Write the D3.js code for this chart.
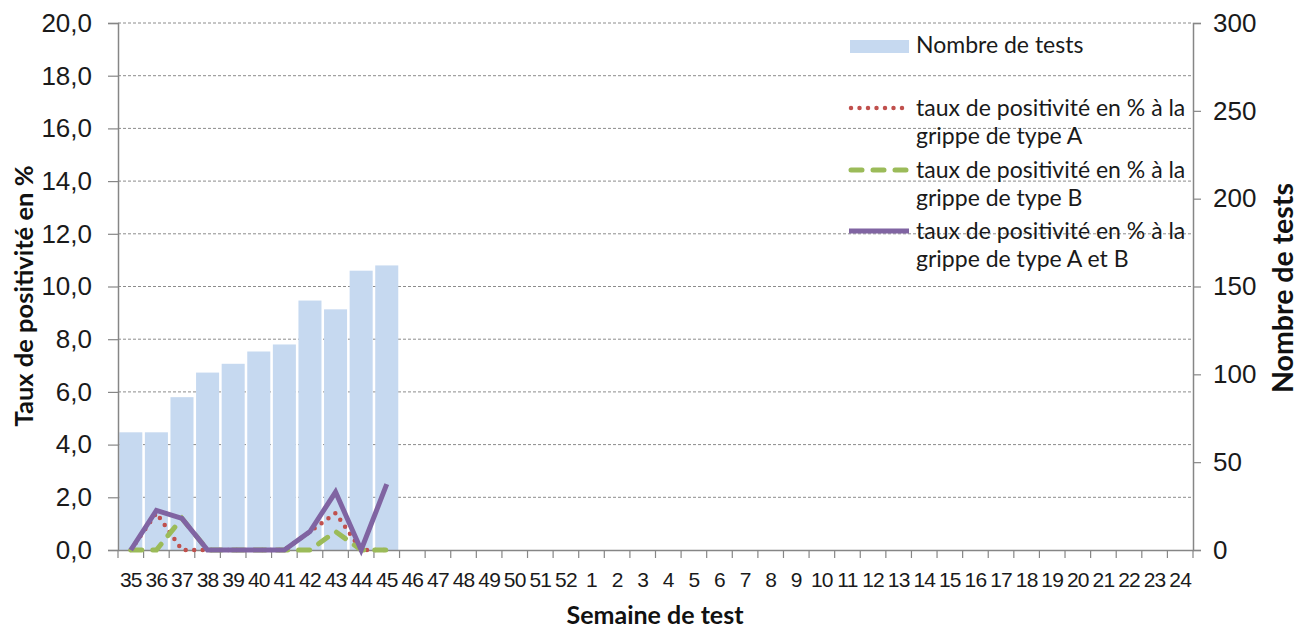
<!DOCTYPE html>
<html>
<head>
<meta charset="utf-8">
<script src="https://cdn.jsdelivr.net/npm/d3@7"></script>
<style>
  body { margin: 0; background: #fff; }
  svg { display: block; font-family: Lato, "Open Sans", sans-serif; }
</style>
</head>
<body>
<svg></svg>
<script>
const width = 1300;
const height = 629;

// semaines
const weeks = ["35","36","37","38","39","40","41","42","43","44","45","46","47","48","49","50","51","52",
  "1","2","3","4","5","6","7","8","9","10","11","12","13","14","15","16","17","18","19","20","21","22","23","24"];
const nbTests = [67, 67, 87, 101, 106, 113, 117, 142, 137, 159, 162];
const tauxA = [0, 1.4, 0, 0, 0, 0, 0, 0.7, 1.4, 0, 0];
const tauxB = [0, 0, 1.2, 0, 0, 0, 0, 0, 0.7, 0, 0];
const tauxAB = [0, 1.5, 1.2, 0, 0, 0, 0, 0.7, 2.2, 0, 2.5];
const leftTicks = [0, 2, 4, 6, 8, 10, 12, 14, 16, 18, 20];
const rightTicks = [0, 50, 100, 150, 200, 250, 300];

const margin = { left: 118, right: 107, top: 23, bottom: 79 };
const plotW = width - margin.left - margin.right;
const plotH = height - margin.top - margin.bottom;

const svg = d3.select("svg").attr("width", width).attr("height", height);
const g = svg.append("g").attr("transform", `translate(${margin.left},${margin.top})`);

const x = d3.scaleBand().domain(weeks).range([0, plotW]).paddingInner(0.1).paddingOuter(0.05);
const xc = d3.scaleBand().domain(weeks).range([0, plotW]);
const yL = d3.scaleLinear().domain([0, 20]).range([plotH, 0]);
const yR = d3.scaleLinear().domain([0, 300]).range([plotH, 0]);

const axisColor = "#868686";
const textColor = "#1a1a1a";
const fmt = v => d3.format(".1f")(v).replace(".", ",");

// grid
g.selectAll("line.grid")
  .data(leftTicks.filter(d => d > 0))
  .join("line")
  .attr("class", "grid")
  .attr("x1", 0).attr("x2", plotW)
  .attr("y1", d => yL(d)).attr("y2", d => yL(d))
  .attr("stroke", "#8c8c8c")
  .attr("stroke-width", 1)
  .attr("stroke-dasharray", "3,2");

// bars
g.selectAll("rect.bar")
  .data(nbTests)
  .join("rect")
  .attr("class", "bar")
  .attr("x", (d, i) => x(weeks[i]))
  .attr("width", x.bandwidth())
  .attr("y", d => yR(d))
  .attr("height", d => plotH - yR(d))
  .attr("fill", "#c6d9f0");

// axes
const leftAxis = g.append("g")
  .call(d3.axisLeft(yL).tickValues(leftTicks).tickFormat(fmt).tickSize(10).tickPadding(16));
const rightAxis = g.append("g").attr("transform", `translate(${plotW},0)`)
  .call(d3.axisRight(yR).tickValues(rightTicks).tickSize(8).tickPadding(12));
const bottomAxis = g.append("g").attr("transform", `translate(0,${plotH})`)
  .call(d3.axisBottom(xc).tickSize(0).tickPadding(22));

[leftAxis, rightAxis, bottomAxis].forEach(a => {
  a.select(".domain").attr("stroke", axisColor).attr("stroke-width", 1.5);
  a.selectAll(".tick line").attr("stroke", axisColor).attr("stroke-width", 1.2);
  a.selectAll("text").attr("font-size", 26).attr("fill", textColor);
});
bottomAxis.selectAll("text").attr("font-size", 21).attr("letter-spacing", "-0.8px");

// x ticks between categories
g.selectAll("line.xtick")
  .data(weeks.concat(["end"]))
  .join("line")
  .attr("class", "xtick")
  .attr("x1", (d, i) => i * xc.step()).attr("x2", (d, i) => i * xc.step())
  .attr("y1", plotH).attr("y2", plotH + 8)
  .attr("stroke", axisColor).attr("stroke-width", 1.2);

// lines
const line = d3.line()
  .x((d, i) => xc(weeks[i]) + xc.bandwidth() / 2)
  .y(d => yL(d));

const styleA = { color: "#c0504d", w: 4.5, dash: "0,8.5", cap: "round" };
const styleB = { color: "#9bbb59", w: 5, dash: "11,11", cap: "round" };
const styleAB = { color: "#8064a2", w: 5, dash: null, cap: "butt" };

[[tauxA, styleA], [tauxB, styleB], [tauxAB, styleAB]].forEach(([data, s]) => {
  g.append("path").datum(data)
    .attr("d", line).attr("fill", "none")
    .attr("stroke", s.color).attr("stroke-width", s.w)
    .attr("stroke-dasharray", s.dash).attr("stroke-linecap", s.cap)
    .attr("stroke-linejoin", "miter");
});

// legend
const legend = svg.append("g").attr("font-size", 23).attr("fill", textColor);
legend.append("rect").attr("x", 850).attr("y", 40).attr("width", 59).attr("height", 13).attr("fill", "#c6d9f0");
legend.append("text").attr("x", 916).attr("y", 53).text("Nombre de tests");

const legItems = [
  { y: 108, s: styleA, l2: "grippe de type A" },
  { y: 170, s: styleB, l2: "grippe de type B" },
  { y: 231, s: styleAB, l2: "grippe de type A et B" }
];
legItems.forEach(it => {
  legend.append("line")
    .attr("x1", it.s.cap === "round" ? 851 : 849).attr("x2", 909).attr("y1", it.y).attr("y2", it.y)
    .attr("stroke", it.s.color).attr("stroke-width", it.s.w)
    .attr("stroke-linecap", it.s.cap)
    .attr("stroke-dasharray", it.s.dash);
  legend.append("text").attr("x", 916).attr("y", it.y + 8).text("taux de positivité en % à la");
  legend.append("text").attr("x", 916).attr("y", it.y + 36).text(it.l2);
});

// titles
svg.append("text")
  .attr("transform", "translate(33,296) rotate(-90)")
  .attr("text-anchor", "middle").attr("font-size", 25.5).attr("font-weight", "bold")
  .attr("fill", "#111").text("Taux de positivité en %");
svg.append("text")
  .attr("transform", "translate(1293,288) rotate(-90)")
  .attr("text-anchor", "middle").attr("font-size", 28.5).attr("font-weight", "bold")
  .attr("fill", "#111").text("Nombre de tests");
svg.append("text")
  .attr("x", 655).attr("y", 624)
  .attr("text-anchor", "middle").attr("font-size", 25).attr("font-weight", "bold")
  .attr("fill", "#111").text("Semaine de test");
</script>
</body>
</html>
